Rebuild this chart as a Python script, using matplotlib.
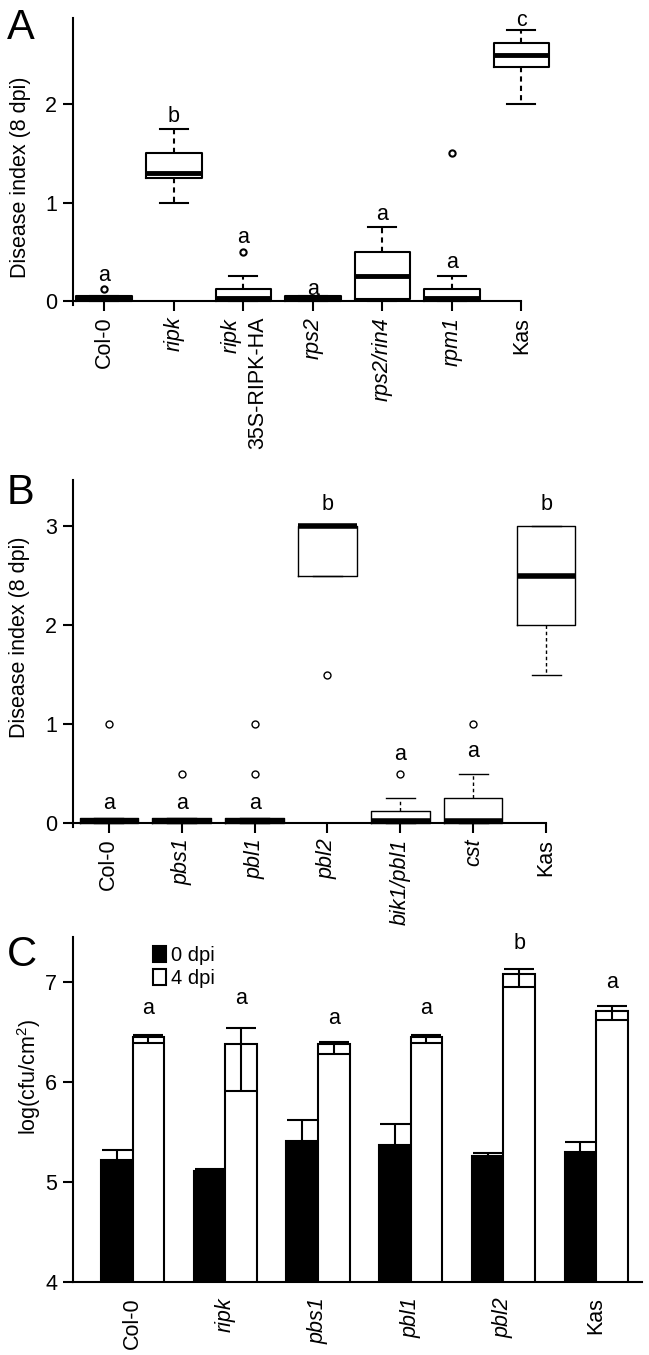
import numpy as np
import matplotlib
matplotlib.use('Agg')
import matplotlib.pyplot as plt
from matplotlib.patches import Patch

plt.rcParams['font.family'] = ['Liberation Sans', 'DejaVu Sans']
plt.rcParams['mathtext.fontset'] = 'custom'
plt.rcParams['mathtext.it'] = 'Liberation Sans:italic'
plt.rcParams['mathtext.rm'] = 'Liberation Sans'
plt.rcParams['font.size'] = 15.5

#Panel A: disease index, box stats
names_a = ['Col-0', 'ripk', r'$\mathit{ripk}$' + '\n35S-RIPK-HA',
           'rps2', 'rps2/rin4', 'rpm1', 'Kas']
ital_a = [False, True, False, True, True, True, False]
med_a = [0.03, 1.3, 0.03, 0.03, 0.25, 0.03, 2.5]
q1_a = [0.0, 1.25, 0.0, 0.0, 0.02, 0.0, 2.375]
q3_a = [0.05, 1.5, 0.125, 0.05, 0.5, 0.125, 2.625]
wlo_a = [0.0, 1.0, 0.0, 0.0, 0.0, 0.0, 2.0]
whi_a = [0.05, 1.75, 0.25, 0.05, 0.75, 0.25, 2.75]
fl_a = [[0.12], [], [0.5], [], [], [1.5], []]
let_a = ['a', 'b', 'a', 'a', 'a', 'a', 'c']
lety_a = [0.26, 1.87, 0.65, 0.12, 0.88, 0.39, 2.85]

#Panel B: disease index, box stats
names_b = ['Col-0', 'pbs1', 'pbl1', 'pbl2', 'bik1/pbl1', 'cst', 'Kas']
ital_b = [False, True, True, True, True, True, False]
med_b = [0.025, 0.025, 0.025, 3.0, 0.025, 0.025, 2.5]
q1_b = [0.0, 0.0, 0.0, 2.5, 0.0, 0.0, 2.0]
q3_b = [0.05, 0.05, 0.05, 3.0, 0.125, 0.25, 3.0]
wlo_b = [0.0, 0.0, 0.0, 2.5, 0.0, 0.0, 1.5]
whi_b = [0.05, 0.05, 0.05, 3.0, 0.25, 0.5, 3.0]
fl_b = [[1.0], [0.5], [0.5, 1.0], [1.5], [0.5], [1.0], []]
let_b = ['a', 'a', 'a', 'b', 'a', 'a', 'b']
lety_b = [0.2, 0.2, 0.2, 3.22, 0.69, 0.72, 3.22]

#Panel C: bacterial growth
names_c = ['Col-0', 'ripk', 'pbs1', 'pbl1', 'pbl2', 'Kas']
ital_c = [False, True, True, True, True, False]
d0 = [5.22, 5.11, 5.41, 5.37, 5.26, 5.30]
d0_err = [0.095, 0.02, 0.21, 0.21, 0.025, 0.10]
d4 = [6.45, 6.38, 6.38, 6.45, 7.08, 6.71]
d4_lo = [0.06, 0.47, 0.10, 0.06, 0.13, 0.09]
d4_hi = [0.02, 0.16, 0.015, 0.015, 0.05, 0.05]
let_c = ['a', 'a', 'a', 'a', 'b', 'a']
lety_c = [6.73, 6.83, 6.63, 6.73, 7.38, 6.99]


def box_panel(ax, med, q1, q3, wlo, whi, fl, lw, medlw, ms):
    stats = [dict(med=m, q1=a, q3=b, whislo=c, whishi=d, fliers=f)
             for m, a, b, c, d, f in zip(med, q1, q3, wlo, whi, fl)]
    pos = np.arange(1, len(stats) + 1)
    ax.bxp(stats, positions=pos, widths=0.8, manage_ticks=False,
           boxprops=dict(color='k', lw=lw),
           whiskerprops=dict(color='k', lw=lw, ls=(0, (2.5, 2))),
           capprops=dict(color='k', lw=lw),
           medianprops=dict(color='k', lw=medlw, solid_capstyle='butt'),
           flierprops=dict(marker='o', mfc='none', mec='k', ms=ms, mew=lw))
    return pos


def set_labels(ax, pos, names, ital):
    ax.set_xticks(pos)
    ax.set_xticklabels(names, rotation=90, ha='center', va='top')
    for lab, it in zip(ax.get_xticklabels(), ital):
        lab.set_fontstyle('italic' if it else 'normal')
        lab.set_multialignment('right')


def style_box_axes(ax, xl):
    ax.spines[['top', 'right']].set_visible(False)
    ax.spines['bottom'].set_position(('data', 0))
    ax.spines['bottom'].set_bounds(xl, 7)
    for s in ['left', 'bottom']:
        ax.spines[s].set_linewidth(1.5)
    ax.tick_params(direction='out', length=7, width=1.5, pad=4.3)


fig = plt.figure(figsize=(6.49, 13.55), dpi=100)

#A
axA = fig.add_axes([0.1125, 0.7749, 0.739, 0.2115])
style_box_axes(axA, 0.55)
pos = box_panel(axA, med_a, q1_a, q3_a, wlo_a, whi_a, fl_a, 1.5, 3.5, 4.5)
for p, t, y in zip(pos, let_a, lety_a):
    axA.text(p, y, t, ha='center', va='center')
axA.set_xlim(0.55, 7.45)
axA.set_ylim(-0.04, 2.87)
axA.set_yticks([0, 1, 2])
set_labels(axA, pos, names_a, ital_a)
axA.set_ylabel('Disease index (8 dpi)', va='center')
axA.yaxis.set_label_coords(-0.11, 0.446)

#B
axB = fig.add_axes([0.1125, 0.3897, 0.7797, 0.2557])
style_box_axes(axB, 0.51)
pos = box_panel(axB, med_b, q1_b, q3_b, wlo_b, whi_b, fl_b, 1.0, 4.0, 5)
for p, t, y in zip(pos, let_b, lety_b):
    axB.text(p, y, t, ha='center', va='center')
axB.set_xlim(0.51, 7.45)
axB.set_ylim(-0.04, 3.46)
axB.set_yticks([0, 1, 2, 3])
set_labels(axB, pos, names_b, ital_b)
axB.set_ylabel('Disease index (8 dpi)', va='center')
axB.yaxis.set_label_coords(-0.105, 0.548)

#C
axC = fig.add_axes([0.1125, 0.0539, 0.8761, 0.2546])
axC.spines[['top', 'right']].set_visible(False)
for s in ['left', 'bottom']:
    axC.spines[s].set_linewidth(1.5)
axC.tick_params(axis='y', direction='out', length=7, width=1.5, pad=4.3)
axC.tick_params(axis='x', length=0, pad=11)
x = np.arange(len(names_c))
w = 0.34
axC.bar(x - w / 2, d0, w, color='k', edgecolor='k', lw=1.5, label='0 dpi')
axC.bar(x + w / 2, d4, w, color='white', edgecolor='k', lw=1.5, label='4 dpi')
axC.errorbar(x - w / 2, d0, yerr=d0_err, fmt='none', ecolor='k',
             elinewidth=1.5, capsize=11, capthick=1.5)
axC.errorbar(x + w / 2, d4, yerr=[d4_lo, d4_hi], fmt='none', ecolor='k',
             elinewidth=1.5, capsize=11, capthick=1.5)
for xi, t, y in zip(x, let_c, lety_c):
    axC.text(xi + w / 2, y, t, ha='center', va='center')
axC.set_xlim(-0.642, 5.49)
axC.set_ylim(4, 7.45)
axC.set_yticks([4, 5, 6, 7])
set_labels(axC, x, names_c, ital_c)
axC.set_ylabel('log(cfu/cm$^2$)', va='center')
axC.yaxis.set_label_coords(-0.077, 0.594)
handles = [Patch(facecolor='k', edgecolor='k', lw=1.5),
           Patch(facecolor='white', edgecolor='k', lw=1.5)]
axC.legend(handles, ['0 dpi', '4 dpi'], loc='upper left', bbox_to_anchor=(0.141, 0.975),
           frameon=False, fontsize=14.5, handlelength=0.65, handleheight=0.85,
           handletextpad=0.25, labelspacing=0.2, borderpad=0, borderaxespad=0)

#panel letters
fig.text(7 / 649, 1 - 8 / 1355, 'A', fontsize=30, va='top', ha='left')
fig.text(7 / 649, 1 - 473 / 1355, 'B', fontsize=30, va='top', ha='left')
fig.text(7 / 649, 1 - 935 / 1355, 'C', fontsize=30, va='top', ha='left')

fig.savefig('out.png', dpi=100)
